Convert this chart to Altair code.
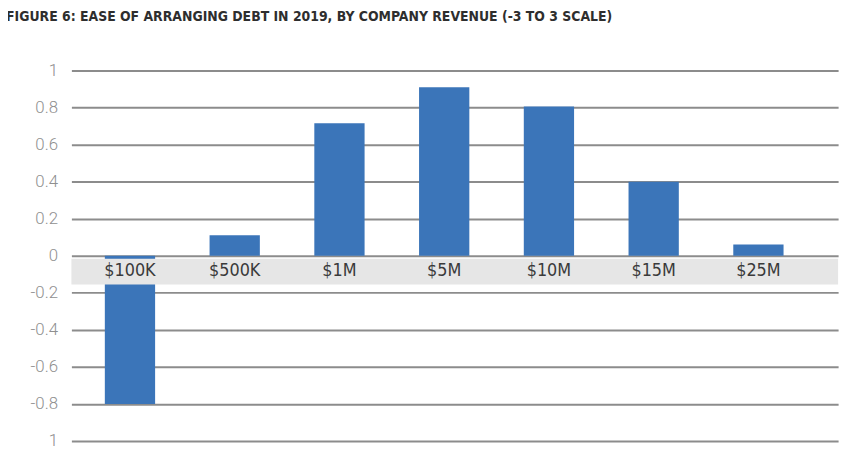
import altair as alt
import pandas as pd

# -----------------------------------------------------------------------------
# DATA
# -----------------------------------------------------------------------------
revenue = ["$100K", "$500K", "$1M", "$5M", "$10M", "$15M", "$25M"]
ease = [-0.80, 0.11, 0.715, 0.91, 0.805, 0.40, 0.06]
y_ticks = [-1, -0.8, -0.6, -0.4, -0.2, 0, 0.2, 0.4, 0.6, 0.8, 1]

TITLE = "FIGURE 6: EASE OF ARRANGING DEBT IN 2019, BY COMPANY REVENUE (-3 TO 3 SCALE)"
BAR_BLUE = "#3b75b9"
GRID_GREY = "#8c8c8c"
BAND_GREY = "#e6e6e6"
NARROW = "'Liberation Sans Narrow', 'Arial Narrow', 'DejaVu Sans Condensed', 'Roboto', sans-serif"

df = pd.DataFrame({"revenue": revenue, "ease": ease})
band_df = pd.DataFrame({"top": [-0.016], "bottom": [-0.155]})

W, H = 774, 374

x_scale = alt.Scale(domain=revenue, paddingInner=0.52, paddingOuter=0.42, align=0.38)
y_scale = alt.Scale(domain=[-1, 1], nice=False)

# -----------------------------------------------------------------------------
# LAYERS
# -----------------------------------------------------------------------------
bars = alt.Chart(df).mark_bar(color=BAR_BLUE).encode(
    x=alt.X("revenue:N", scale=x_scale, sort=revenue, axis=None),
    y=alt.Y(
        "ease:Q",
        scale=y_scale,
        title=None,
        axis=alt.Axis(
            values=y_ticks,
            tickCount=len(y_ticks),
            grid=True,
            gridColor=GRID_GREY,
            gridWidth=2,
            domain=False,
            ticks=False,
            labelPadding=14,
            labelOverlap=False,
            labelFlush=False,
            labelFont="Roboto",
            labelFontWeight=300,
            labelFontSize=17,
            labelColor="#8f8f8f",
            # the source prints the bottom tick as "1" and uses plain hyphens
            labelExpr="datum.value == -1 ? '1' : '' + datum.value",
        ),
    ),
)

# grey strip behind the category names, drawn over the bars like the original
strip = alt.Chart(band_df).mark_rect(color=BAND_GREY).encode(
    y=alt.Y("top:Q", scale=y_scale),
    y2="bottom:Q",
)

labels = alt.Chart(df).mark_text(
    font=NARROW,
    fontSize=18,
    color="#3a3a3a",
    baseline="middle",
).encode(
    x=alt.X("revenue:N", scale=x_scale, sort=revenue),
    y=alt.datum(-0.085),
    text="revenue:N",
)

chart = alt.layer(bars, strip, labels).properties(
    width=W,
    height=H,
    padding={"left": 64, "top": 61, "right": 11, "bottom": 3},
    autosize=alt.AutoSizeParams(type="none"),
    title=alt.TitleParams(
        text=TITLE,
        anchor="start",
        frame="group",
        font=NARROW,
        fontSize=14,
        fontWeight=600,
        color="#2e2e2e",
        dx=-66,
        offset=38,
    ),
).configure_view(stroke=None)

chart.save("out.html", embed_options={"renderer": "svg", "actions": False})
